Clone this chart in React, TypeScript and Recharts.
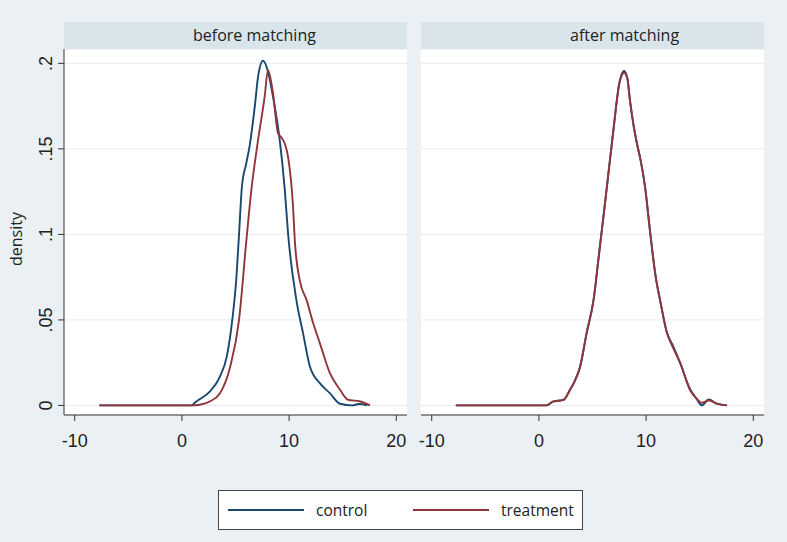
import React from 'react';
import { LineChart, Line, XAxis, YAxis, CartesianGrid, Legend } from 'recharts';

// ---------- data ----------
const PANEL_TITLES = ['before matching', 'after matching'];
const SERIES_NAMES = ['control', 'treatment'];
const SERIES_COLORS = ['#1a476f', '#90353b'];
const X_TICKS = [-10, 0, 10, 20];
const Y_TICKS = [0, 0.05, 0.1, 0.15, 0.2];
const Y_TICK_LABELS = ['0', '.05', '.1', '.15', '.2'];

// [x, density]
const beforeControl: number[][] = [
  [-7.7, 0], [0.9, 0], [1.2, 0.0016], [1.65, 0.0036], [2.6, 0.0081], [3.55, 0.0169],
  [4.2, 0.029], [4.7, 0.05], [5.05, 0.072], [5.3, 0.0968], [5.6, 0.128], [6.0, 0.1414],
  [6.3, 0.151], [6.8, 0.1748], [7.1, 0.192], [7.57, 0.2015], [8.04, 0.195], [8.5, 0.1805],
  [9.13, 0.155], [9.6, 0.126], [9.9, 0.1008], [10.68, 0.0616], [11.3, 0.0423],
  [11.94, 0.0228], [12.87, 0.013], [13.8, 0.0072], [14.75, 0.001], [15.9, 0],
  [16.5, 0.0008], [17.3, 0],
];
const beforeTreatment: number[][] = [
  [-7.7, 0], [1.0, 0], [1.65, 0.0004], [2.6, 0.0023], [3.55, 0.0071], [4.5, 0.0225],
  [5.33, 0.05], [6.02, 0.0968], [6.48, 0.126], [7.1, 0.155], [7.72, 0.1805], [8.03, 0.196],
  [8.5, 0.1825], [8.97, 0.159], [9.3, 0.1565], [9.6, 0.153], [9.9, 0.1455], [10.37, 0.116],
  [10.53, 0.0968], [11.0, 0.073], [11.63, 0.0617], [12.25, 0.048], [12.87, 0.0364],
  [13.8, 0.019], [14.75, 0.0092], [15.5, 0.0033], [16.65, 0.0023], [17.55, 0],
];
const afterControl: number[][] = [
  [-7.75, 0], [0.7, 0], [1.3, 0.0022], [2.3, 0.0033], [2.9, 0.0092], [3.4, 0.015],
  [3.85, 0.0228], [4.45, 0.0423], [5.1, 0.0617], [5.6, 0.088], [6.2, 0.12], [6.95, 0.161],
  [7.5, 0.1885], [7.95, 0.1955], [8.25, 0.1915], [8.5, 0.178], [8.85, 0.163], [9.15, 0.153],
  [9.5, 0.143], [9.9, 0.128], [10.4, 0.1], [10.9, 0.075], [11.3, 0.0617], [11.95, 0.0425],
  [12.5, 0.035], [13.2, 0.0245], [14.1, 0.0095], [14.7, 0.004], [15.2, 0.0], [15.85, 0.0035],
  [16.6, 0.001], [17.55, 0],
];
const afterTreatment: number[][] = [
  [-7.75, 0], [0.7, 0], [1.3, 0.0022], [2.3, 0.0032], [2.9, 0.009], [3.4, 0.015],
  [3.85, 0.0228], [4.45, 0.0423], [5.1, 0.0617], [5.6, 0.088], [6.2, 0.12], [6.95, 0.161],
  [7.5, 0.188], [7.95, 0.1945], [8.25, 0.191], [8.5, 0.178], [8.85, 0.163], [9.15, 0.153],
  [9.5, 0.143], [9.9, 0.128], [10.4, 0.1], [10.9, 0.075], [11.3, 0.0617], [11.95, 0.0423],
  [12.5, 0.034], [13.2, 0.0245], [14.1, 0.009], [14.7, 0.004], [15.2, 0.0015], [15.85, 0.003],
  [16.6, 0.001], [17.55, 0],
];

const toRows = (pts: number[][]) => pts.map(([x, y]) => ({ x, y }));
const PANELS = [
  [toRows(beforeControl), toRows(beforeTreatment)],
  [toRows(afterControl), toRows(afterTreatment)],
];

// ---------- style ----------
const BG = '#eaf0f3';
const STRIP = '#d9e5eb';
const GRID = '#ebebeb';
const AXIS = '#333333';
const TICK_FONT = '"Liberation Sans", Arial, sans-serif';
const TEXT_FONT = '"Open Sans", "Noto Sans", sans-serif';
const X_DOMAIN: [number, number] = [-11, 21];
const Y_DOMAIN: [number, number] = [-0.0056, 0.2084];

const XTick = (props: any) => {
  const { x, y, payload } = props;
  return (
    <text x={x} y={y + 24} textAnchor="middle" fontFamily={TICK_FONT} fontSize={18} fill="#222">
      {payload.value}
    </text>
  );
};

const YTick = (props: any) => {
  const { x, y, payload } = props;
  const idx = Y_TICKS.indexOf(payload.value);
  const bx = x - 4.3;
  return (
    <text
      x={bx}
      y={y}
      textAnchor="middle"
      transform={`rotate(-90, ${bx}, ${y})`}
      fontFamily={TICK_FONT}
      fontSize={18}
      fill="#222"
    >
      {idx >= 0 ? Y_TICK_LABELS[idx] : payload.value}
    </text>
  );
};

const LegendBox = (props: any) => {
  const payload = props.payload || [];
  return (
    <div
      style={{
        width: 365,
        height: 40,
        boxSizing: 'border-box',
        border: '1px solid #444',
        background: '#fff',
      }}
    >
      <svg width={363} height={38} style={{ display: 'block' }}>
        {payload.map((entry: any, i: number) => {
          const lx = 9 + i * 185;
          return (
            <g key={entry.value}>
              <line x1={lx} x2={lx + 76} y1={19} y2={19} stroke={entry.color} strokeWidth={2} />
              <text x={lx + 88} y={24.5} fontFamily={TEXT_FONT} fontSize={15.5} fill="#222">
                {entry.value}
              </text>
            </g>
          );
        })}
      </svg>
    </div>
  );
};

const Strip = ({ left, width, textLeft, title }: any) => (
  <div
    style={{
      position: 'absolute',
      left,
      top: 22,
      width,
      height: 27,
      background: STRIP,
      fontFamily: TEXT_FONT,
      fontSize: 16,
      lineHeight: '27px',
      color: '#222',
      whiteSpace: 'nowrap',
    }}
  >
    <span style={{ position: 'absolute', left: textLeft - left }}>{title}</span>
  </div>
);

export default function App() {
  const W = 787;
  const H = 542;
  return (
    <div style={{ position: 'fixed', left: 0, top: 0, width: W, height: H, background: BG, overflow: 'hidden' }}>
      {/* left panel */}
      <div style={{ position: 'absolute', left: 0, top: 0 }}>
        <LineChart width={W} height={H} margin={{ top: 49, right: 380, bottom: 87, left: 14 }}>
          <CartesianGrid vertical={false} stroke={GRID} fill="#ffffff" />
          <XAxis
            type="number"
            dataKey="x"
            domain={X_DOMAIN}
            ticks={X_TICKS}
            allowDataOverflow
            height={40}
            tickSize={6}
            stroke={AXIS}
            tick={<XTick />}
            interval={0}
          />
          <YAxis
            type="number"
            domain={Y_DOMAIN}
            ticks={Y_TICKS}
            allowDataOverflow
            width={50}
            tickSize={6}
            stroke={AXIS}
            tick={<YTick />}
            interval={0}
            label={() => (
              <text
                x={21.5}
                y={239}
                textAnchor="middle"
                transform="rotate(-90, 21.5, 239)"
                fontFamily={TEXT_FONT}
                fontSize={16}
                fill="#222"
              >
                density
              </text>
            )}
          />
          {SERIES_NAMES.map((name, i) => (
            <Line
              key={name}
              name={name}
              data={PANELS[0][i]}
              dataKey="y"
              type="monotone"
              stroke={SERIES_COLORS[i]}
              strokeWidth={1.9}
              dot={false}
              activeDot={false}
              isAnimationActive={false}
            />
          ))}
          <Legend
            layout="vertical"
            align="center"
            verticalAlign="middle"
            wrapperStyle={{ left: 218, top: 490, width: 365, height: 40 }}
            content={<LegendBox />}
          />
        </LineChart>
      </div>
      {/* right panel */}
      <div style={{ position: 'absolute', left: 0, top: 0 }}>
        <LineChart width={W} height={H} margin={{ top: 49, right: 23, bottom: 87, left: 421 }}>
          <CartesianGrid vertical={false} stroke={GRID} fill="#ffffff" />
          <XAxis
            type="number"
            dataKey="x"
            domain={X_DOMAIN}
            ticks={X_TICKS}
            allowDataOverflow
            height={40}
            tickSize={6}
            stroke={AXIS}
            tick={<XTick />}
            interval={0}
          />
          <YAxis type="number" domain={Y_DOMAIN} ticks={Y_TICKS} allowDataOverflow hide />
          {SERIES_NAMES.map((name, i) => (
            <Line
              key={name}
              name={name}
              data={PANELS[1][i]}
              dataKey="y"
              type="monotone"
              stroke={SERIES_COLORS[i]}
              strokeWidth={1.9}
              dot={false}
              activeDot={false}
              isAnimationActive={false}
            />
          ))}
        </LineChart>
      </div>
      <Strip left={64} width={343} textLeft={193} title={PANEL_TITLES[0]} />
      <Strip left={421} width={343} textLeft={570} title={PANEL_TITLES[1]} />
    </div>
  );
}
